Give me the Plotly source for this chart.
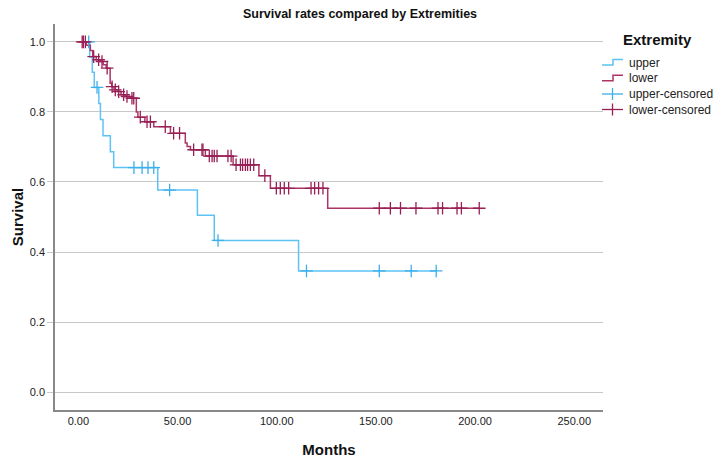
import plotly.graph_objects as go

# ---- data ----
upper_start = 5.0
upper_event_t = [5.7, 7.0, 8.0, 10.3, 11.1, 12.4, 16.1, 17.8, 40.0, 60.0, 68.5, 111.0]
upper_event_s = [0.957, 0.913, 0.870, 0.824, 0.778, 0.732, 0.686, 0.641, 0.577, 0.505, 0.433, 0.346]
upper_cens_t = [5.2, 9.4, 28.0, 32.1, 35.1, 38.0, 46.0, 70.4, 115.0, 151.7, 167.8, 180.4]

lower_start = 1.0
lower_event_t = [4.0, 6.0, 7.2, 9.0, 11.0, 12.5, 14.0, 16.0, 16.8, 18.0, 20.0, 21.5, 23.5, 26.0,
                 29.2, 30.0, 33.5, 38.0, 46.4, 53.9, 54.8, 56.5, 64.0, 78.0, 91.0, 96.8, 125.7]
lower_event_s = [0.990, 0.975, 0.958, 0.949, 0.944, 0.935, 0.925, 0.882, 0.872, 0.863, 0.858,
                 0.849, 0.844, 0.839, 0.800, 0.785, 0.772, 0.758, 0.739, 0.711, 0.701, 0.692,
                 0.674, 0.649, 0.618, 0.582, 0.525]
lower_cens_t = [1.9, 2.5, 3.5, 7.7, 10.2, 11.9, 14.5, 17.0, 18.6, 20.3, 22.8, 24.5, 27.0, 27.9,
                31.2, 34.6, 36.3, 43.8, 48.0, 51.0, 58.1, 62.3, 62.8, 66.0, 67.4, 68.5, 69.9,
                75.4, 77.0, 79.5, 81.7, 82.8, 84.2, 85.3, 86.7, 88.4, 94.0, 99.8, 101.8, 103.8,
                106.0, 117.3, 119.1, 121.1, 123.3, 151.7, 157.3, 162.4, 170.2, 181.3, 183.6,
                190.9, 193.1, 202.1]

x_ticks = [0, 50, 100, 150, 200, 250]
y_ticks = [0.0, 0.2, 0.4, 0.6, 0.8, 1.0]

legend_title = "Extremity"
legend_labels = ["upper", "lower", "upper-censored", "lower-censored"]

UPPER_LINE = "#5ec2f5"
UPPER_MARK = "#3dafe9"
LOWER_LINE = "#ab3566"
LOWER_MARK = "#981f55"
FONT = "Liberation Sans, Arial, sans-serif"

# plot area in pixels (for legend placement in paper coords)
L, R, T, B, W, H = 55, 117, 24, 53, 720, 463
PW, PH = W - L - R, H - T - B


def px(xp):
    return (xp - L) / PW


def py(yp):
    return (H - B - yp) / PH


def surv_at(t, ev_t, ev_s):
    s = 1.0
    for et, es in zip(ev_t, ev_s):
        if et <= t:
            s = es
    return s


def curve(start, ev_t, ev_s, cens_t):
    end = max(cens_t + ev_t)
    xs = [start] + ev_t + [end]
    ys = [1.0] + ev_s + [surv_at(end, ev_t, ev_s)]
    return xs, ys


fig = go.Figure()
ux, uy = curve(upper_start, upper_event_t, upper_event_s, upper_cens_t)
lx, ly = curve(lower_start, lower_event_t, lower_event_s, lower_cens_t)

fig.add_trace(go.Scatter(x=ux, y=uy, mode="lines", line=dict(shape="hv", color=UPPER_LINE, width=1.5),
                         name=legend_labels[0]))
fig.add_trace(go.Scatter(x=lx, y=ly, mode="lines", line=dict(shape="hv", color=LOWER_LINE, width=1.5),
                         name=legend_labels[1]))
fig.add_trace(go.Scatter(x=upper_cens_t, y=[surv_at(t, upper_event_t, upper_event_s) for t in upper_cens_t],
                         mode="markers", name=legend_labels[2],
                         marker=dict(symbol="cross-thin", size=9, line=dict(color=UPPER_MARK, width=1.3))))
fig.add_trace(go.Scatter(x=lower_cens_t, y=[surv_at(t, lower_event_t, lower_event_s) for t in lower_cens_t],
                         mode="markers", name=legend_labels[3],
                         marker=dict(symbol="cross-thin", size=9, line=dict(color=LOWER_MARK, width=1.3))))

# ---- manual legend (SPSS style) ----
shapes = []
annotations = [dict(text="<b>%s</b>" % legend_title, xref="paper", yref="paper", x=px(657), y=py(39),
                    xanchor="center", yanchor="middle", showarrow=False,
                    font=dict(size=15, color="#111111", family=FONT))]
item_y = [62.5, 78.3, 94.0, 109.5]
colors = [UPPER_LINE, LOWER_LINE, UPPER_MARK, LOWER_MARK]
for i, (lab, yc, col) in enumerate(zip(legend_labels, item_y, colors)):
    if i < 2:
        path = "M %f %f L %f %f L %f %f L %f %f" % (px(602), py(yc + 2.5), px(613), py(yc + 2.5),
                                                     px(613), py(yc - 3), px(623), py(yc - 3))
        shapes.append(dict(type="path", xref="paper", yref="paper", path=path,
                           line=dict(color=col, width=1.5)))
    else:
        shapes.append(dict(type="line", xref="paper", yref="paper", x0=px(602), x1=px(623),
                           y0=py(yc), y1=py(yc), line=dict(color=col, width=1.3)))
        shapes.append(dict(type="line", xref="paper", yref="paper", x0=px(612.5), x1=px(612.5),
                           y0=py(yc - 6), y1=py(yc + 6), line=dict(color=col, width=1.3)))
    annotations.append(dict(text=lab, xref="paper", yref="paper", x=px(627), y=py(yc),
                            xanchor="left", yanchor="middle", showarrow=False,
                            font=dict(size=12, color="#222222", family=FONT)))

fig.update_layout(
    width=W, height=H,
    margin=dict(l=L, r=R, t=T, b=B, autoexpand=False),
    paper_bgcolor="white", plot_bgcolor="white",
    font=dict(family=FONT, size=11, color="#222222"),
    showlegend=False,
    title=dict(text="<b>Survival rates compared by Extremities</b>", x=0.5, xanchor="center",
               y=0.97, yanchor="middle", font=dict(size=12.5, color="#111111")),
    xaxis=dict(range=[-11.8, 264.5], tickvals=x_ticks, tickformat=".2f", showgrid=False,
               zeroline=False, showline=True, linecolor="#888888", linewidth=1.5, ticks="",
               automargin=False,
               title=dict(text="<b>Months</b>", font=dict(size=15, color="#111111"), standoff=19),
               tickfont=dict(size=11, color="#222222")),
    yaxis=dict(range=[-0.051, 1.051], tickvals=y_ticks, tickformat=".1f", showgrid=True,
               gridcolor="#c8c8c8", gridwidth=1, zeroline=False, showline=True,
               linecolor="#888888", linewidth=1.5, ticks="outside", ticklen=6, tickcolor="#c8c8c8",
               automargin=False,
               title=dict(text="<b>Survival</b>", font=dict(size=15, color="#111111"), standoff=3),
               tickfont=dict(size=11, color="#222222")),
    shapes=shapes,
    annotations=annotations,
)

fig.write_html("out.html")
